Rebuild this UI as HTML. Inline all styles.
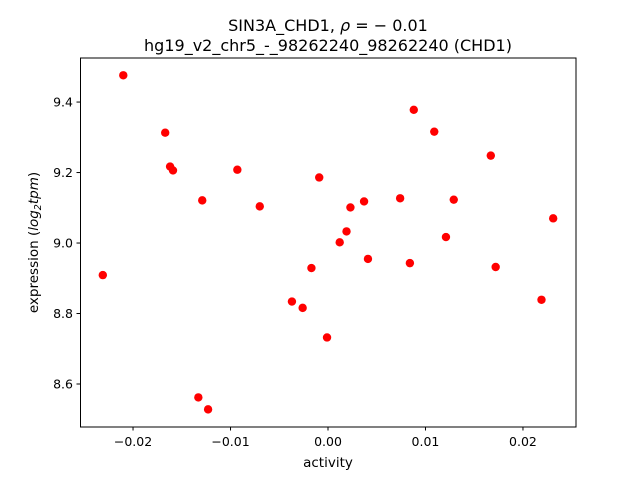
<!DOCTYPE html>
<html><head><meta charset="utf-8"><style>
body{margin:0;background:#fff;font-family:"Liberation Sans","DejaVu Sans",sans-serif}
text{font-family:"DejaVu Sans","Liberation Sans",sans-serif}
</style></head><body>
<svg id="chart" width="640" height="480" xmlns="http://www.w3.org/2000/svg">
<rect width="640" height="480" fill="#fff"/>
<text x="328" y="31" text-anchor="middle" font-size="16">SIN3A_CHD1, <tspan font-style="italic">ρ</tspan> = − 0.01</text>
<text x="328" y="51" text-anchor="middle" font-size="16">hg19_v2_chr5_-_98262240_98262240 (CHD1)</text>
<g id="points"></g>
<rect x="80.5" y="58" width="495.5" height="369" fill="none" stroke="#000" stroke-width="1"/>
<g id="xticks"></g>
<g id="yticks"></g>
<text x="328" y="467" text-anchor="middle" font-size="13.5">activity</text>
<text transform="translate(38,242.5) rotate(-90)" text-anchor="middle" font-size="13.5">expression (<tspan font-style="italic">log</tspan><tspan font-style="italic" font-size="9.5" dy="3">2</tspan><tspan font-style="italic" dy="-3">tpm</tspan>)</text>
</svg>
<script>
const xValues=[-0.0210,-0.0231,-0.0167,-0.0162,-0.0159,-0.0129,-0.0133,-0.0123,-0.0093,-0.0070,-0.0037,-0.0026,-0.0017,-0.0009,-0.0001,0.0012,0.0019,0.0023,0.0037,0.0041,0.0074,0.0084,0.0088,0.0109,0.0121,0.0129,0.0167,0.0172,0.0219,0.0231];
const yValues=[9.476,8.909,9.313,9.217,9.206,9.121,8.562,8.528,9.208,9.104,8.834,8.816,8.929,9.186,8.732,9.002,9.033,9.101,9.118,8.955,9.127,8.943,9.378,9.316,9.017,9.123,9.248,8.932,8.839,9.070];
const xTickValues=[-0.02,-0.01,0.00,0.01,0.02];
const xTickLabels=["−0.02","−0.01","0.00","0.01","0.02"];
const yTickValues=[8.6,8.8,9.0,9.2,9.4];
const yTickLabels=["8.6","8.8","9.0","9.2","9.4"];
const X0=80,X1=576,Y0=427,Y1=58;
const xMin=-0.02544,xMax=0.02544,yMin=8.478,yMax=9.525;
function sx(v){return X0+(v-xMin)/(xMax-xMin)*(X1-X0);}
function sy(v){return Y0-(v-yMin)/(yMax-yMin)*(Y0-Y1);}
const NS="http://www.w3.org/2000/svg";
const pg=document.getElementById('points');
xValues.forEach((x,i)=>{
 const c=document.createElementNS(NS,'circle');
 c.setAttribute('cx',sx(x));c.setAttribute('cy',sy(yValues[i]));c.setAttribute('r',4.2);c.setAttribute('fill','#ff0000');
 
 
 pg.appendChild(c);
});
const xg=document.getElementById('xticks');
xTickValues.forEach((v,i)=>{
 const x=sx(v);
 const l=document.createElementNS(NS,'line');
 l.setAttribute('x1',x);l.setAttribute('x2',x);l.setAttribute('y1',427);l.setAttribute('y2',430.5);l.setAttribute('stroke','#000');
 
 
 xg.appendChild(l);
 const t=document.createElementNS(NS,'text');
 t.setAttribute('x',x);t.setAttribute('y',446);t.setAttribute('text-anchor','middle');t.setAttribute('font-size','12.5');
 t.textContent=xTickLabels[i];
 
 
 xg.appendChild(t);
});
const yg=document.getElementById('yticks');
yTickValues.forEach((v,i)=>{
 const y=sy(v);
 const l=document.createElementNS(NS,'line');
 l.setAttribute('x1',76.5);l.setAttribute('x2',80);l.setAttribute('y1',y);l.setAttribute('y2',y);l.setAttribute('stroke','#000');
 
 
 yg.appendChild(l);
 const t=document.createElementNS(NS,'text');
 t.setAttribute('x',73);t.setAttribute('y',y+4.5);t.setAttribute('text-anchor','end');t.setAttribute('font-size','12.5');
 t.textContent=yTickLabels[i];
 
 
 yg.appendChild(t);
});
</script>
</body></html>
